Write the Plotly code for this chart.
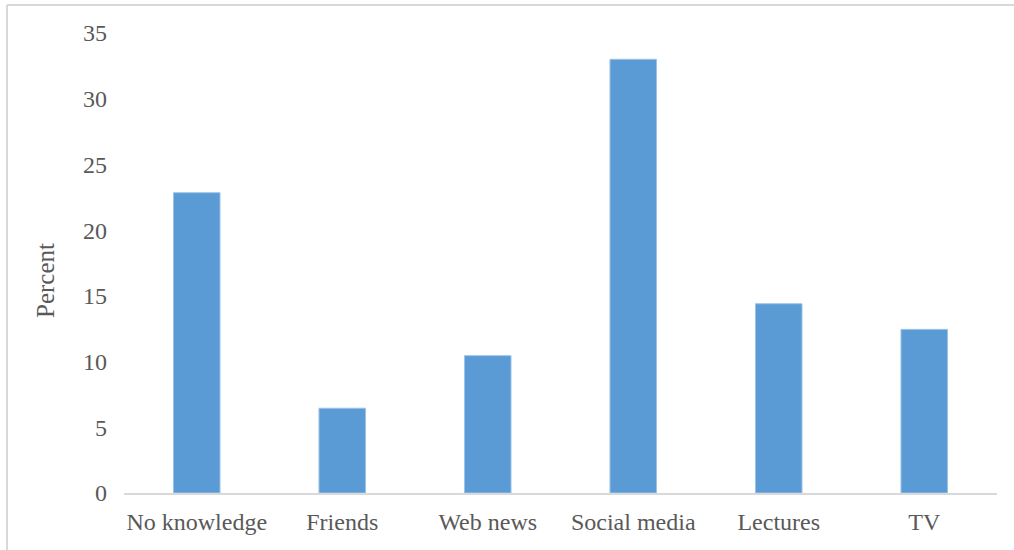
import plotly.graph_objects as go

categories = ["No knowledge", "Friends", "Web news", "Social media", "Lectures", "TV"]
percent = [22.85, 6.45, 10.45, 33.0, 14.4, 12.45]
y_ticks = [0, 5, 10, 15, 20, 25, 30, 35]

W, H = 1014, 550
L, R, T, B = 124, 17, 33, 57
pw = W - L - R
ph = H - T - B

font = dict(family="Liberation Serif", size=24, color="#595959")

fig = go.Figure(go.Bar(
    x=categories, y=percent,
    marker=dict(color="#5B9BD5", line=dict(color="#9DC3E6", width=1)),
    width=0.32,
))

fig.update_layout(
    width=W, height=H,
    margin=dict(l=L, r=R, t=T, b=B),
    paper_bgcolor="white", plot_bgcolor="white",
    font=font,
    showlegend=False,
    xaxis=dict(
        showgrid=False, showline=True, linecolor="#D9D9D9", linewidth=2,
        ticks="", ticklabelstandoff=6, tickfont=font,
    ),
    yaxis=dict(
        range=[0, 35], tickvals=y_ticks, showgrid=False, showline=False,
        zeroline=False, ticks="", ticklabelstandoff=16, tickfont=font,
    ),
    annotations=[
        dict(text="Percent", textangle=-90, xref="paper", yref="paper",
             x=(45 - L) / pw, y=(H - B - 281) / ph,
             xanchor="center", yanchor="middle", showarrow=False,
             font=dict(family="Liberation Serif", size=25, color="#595959")),
    ],
    shapes=[
        dict(type="line", xref="paper", yref="paper",
             x0=(7 - L) / pw, x1=(W - L) / pw,
             y0=(H - B - 5) / ph, y1=(H - B - 5) / ph,
             line=dict(color="#D9D9D9", width=2)),
        dict(type="line", xref="paper", yref="paper",
             x0=(7 - L) / pw, x1=(7 - L) / pw,
             y0=(H - B - 5) / ph, y1=-B / ph,
             line=dict(color="#D9D9D9", width=2)),
    ],
)

fig.write_html("out.html")
